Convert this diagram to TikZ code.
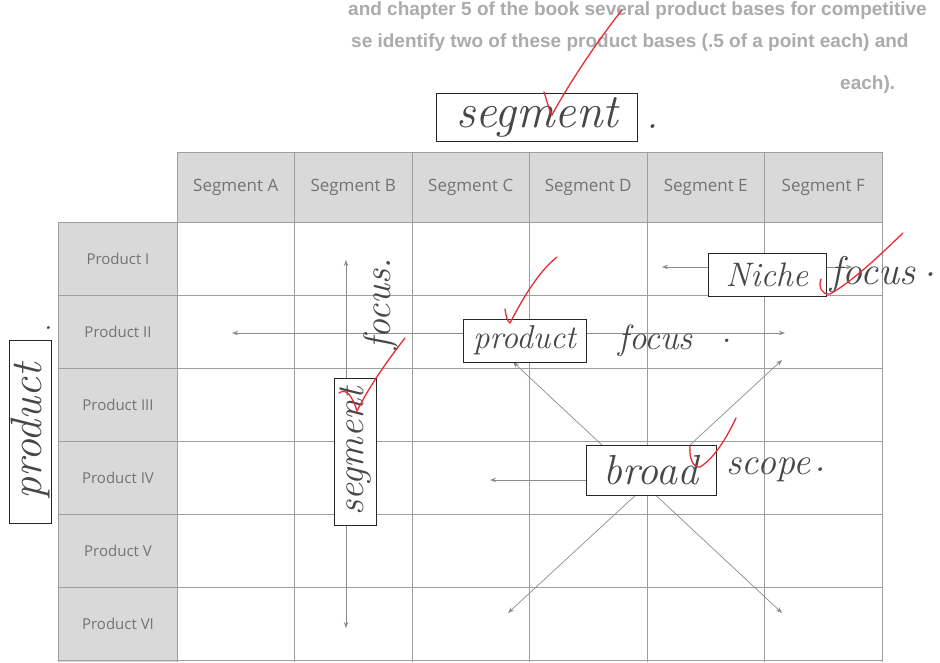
\documentclass[tikz,border=0pt]{standalone}
\usepackage{fontspec}
\newfontfamily\tabfont{Open Sans}
\newfontfamily\qfont{Liberation Sans}
\usetikzlibrary{arrows.meta,positioning}
\definecolor{inkred}{RGB}{232,45,55}
\begin{document}
\begin{tikzpicture}[x=1pt,y=-1pt,
    >={Stealth[length=6pt,width=4.5pt]},
    gridline/.style={draw=black!38, line width=1pt},
    seglbl/.style={font=\tabfont\fontsize{17}{17}\selectfont, text=black!55},
    prodlbl/.style={font=\tabfont\fontsize{15}{15}\selectfont, text=black!55},
    qtext/.style={font=\qfont\bfseries\fontsize{19}{19}\selectfont, text=black!33, inner sep=0pt, anchor=base west},
    hand/.style={font=\itshape\fontsize{#1}{#1}\selectfont, text=black!72, inner sep=0pt},
    handbox/.style={draw=black!85, line width=0.8pt, fill=white, inner sep=0pt},
    guide/.style={draw=black!45, line width=0.7pt, <->},
    tickmark/.style={draw=inkred, line width=1.3pt, line cap=round}]
  \useasboundingbox[fill=white] (0,0) rectangle (940,662);
  % texto de la pregunta
  \node[qtext] (q1) at (348,15) {and chapter 5 of the book several product bases for competitive};
  \node[qtext] (q2) at (351,47) {se identify two of these product bases (.5 of a point each) and};
  \node[qtext] (q3) at (840,89) {each).};
  % tabla
  \fill[black!15] (177,152) rectangle (882,222);
  \fill[black!15] (58,222) rectangle (177,662);
  \foreach \c in {0,...,6}
    \draw[gridline] ({177+117.5*\c},152) -- ({177+117.5*\c},662);
  \foreach \r in {0,...,6}
    \draw[gridline] (58,{222+73*\r}) -- (882,{222+73*\r});
  \draw[gridline] (177,152) -- (882,152);
  \draw[gridline] (58,222) -- (58,662);
  \foreach \s [count=\i] in {A,B,C,D,E,F}
    \node[seglbl] (seg\s) at ({177+117.5*(\i-0.5)},187) {Segment \s};
  \foreach \p [count=\i] in {I,II,III,IV,V,VI}
    \node[prodlbl] (prod\i) at (118,{222+73*(\i-0.5)}) {Product \p};
  % flechas
  \coordinate (sfT) at (346,260);
  \coordinate (sfB) at (346,628);
  \coordinate (pfL) at (232,333);
  \coordinate (pfR) at (785,333);
  \coordinate (nfL) at (662,267);
  \coordinate (nfR) at (852,267);
  \coordinate (bsUL) at (513,362);
  \coordinate (bsDR) at (782,613);
  \coordinate (bsUR) at (782,360);
  \coordinate (bsDL) at (508,613);
  \coordinate (bsC) at (640,480);
  \coordinate (bsL) at (490,480);
  \draw[guide] (sfT) -- (sfB);
  \draw[guide] (pfL) -- (pfR);
  \draw[guide] (nfL) -- (nfR);
  \draw[guide] (bsUL) -- (bsDR);
  \draw[guide] (bsUR) -- (bsDL);
  \draw[guide,->] (bsC) -- (bsL);
  % anotaciones a mano
  \node[handbox, minimum width=201, minimum height=48, hand=48] (segbox) at (537,117) {segment};
  \node[hand=40] (segdot) at (652,127) {.};
  \node[handbox, rotate=90, minimum width=183, minimum height=42, hand=44] (prodbox) at (30,431.5) {product};
  \node[hand=30] (proddot) at (48,328) {.};
  \node[handbox, rotate=90, minimum width=147, minimum height=42, hand=38] (sfbox) at (355,451.5) {segment};
  \node[hand=38, rotate=90, anchor=base west] (sffocus) at (390,350) {focus.};
  \node[handbox, minimum width=123, minimum height=43, hand=33] (pfbox) at (524.5,340.5) {product};
  \node[hand=35, right=32pt of pfbox] (pffocus) {focus};
  \node[hand=35, right=28pt of pffocus] (pfdot) {.};
  \node[handbox, minimum width=118, minimum height=43, hand=34] (nfbox) at (767,274.5) {Niche};
  \node[hand=40, right=4pt of nfbox] (nffocus) {focus};
  \node[hand=40, right=8pt of nffocus] (nfdot) {.};
  \node[handbox, minimum width=130, minimum height=50, hand=42] (bsbox) at (651,470) {broad};
  \node[hand=38, right=10pt of bsbox] (bsscope) {scope};
  \node[hand=38, right=4pt of bsscope] (bsdot) {.};
  % visto bueno en rojo
  \draw[tickmark] (544,92) .. controls (547,101) and (549,110) .. (552,115) .. controls (568,85) and (598,40) .. (622,10);
  \draw[tickmark] (505,309) .. controls (506,316) and (507,321) .. (510,323) .. controls (522,300) and (538,272) .. (557,257);
  \draw[tickmark] (821,279) .. controls (818,287) and (822,295) .. (830,294) .. controls (855,280) and (885,250) .. (903,233);
  \draw[tickmark] (690,446) .. controls (689,458) and (693,468) .. (700,467) .. controls (715,458) and (728,435) .. (736,418);
  \draw[tickmark] (339,393) .. controls (346,388) and (352,395) .. (357,411) .. controls (370,385) and (388,360) .. (405,338);
\end{tikzpicture}
\end{document}
